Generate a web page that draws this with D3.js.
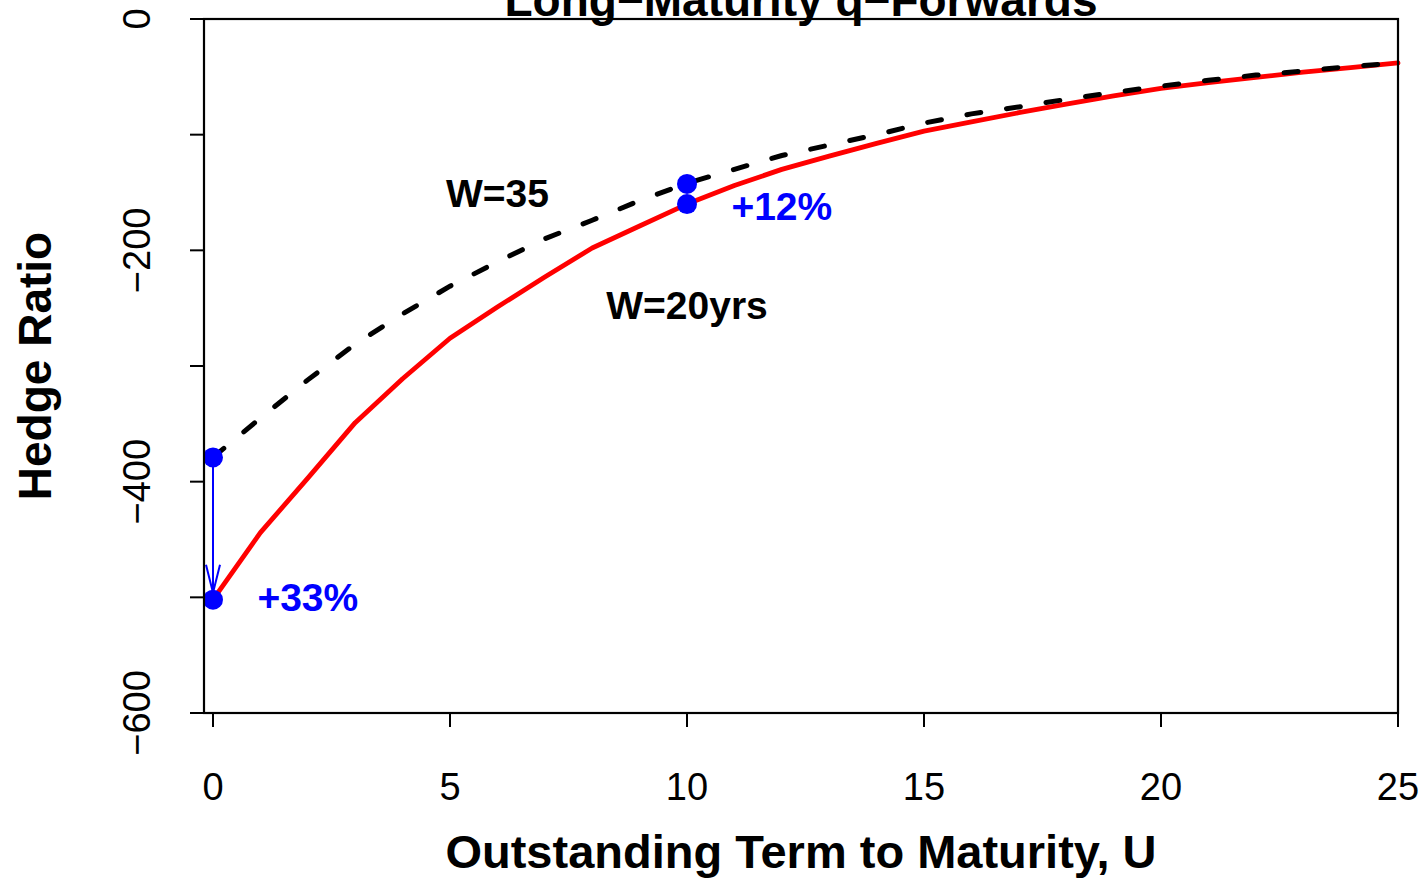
<!DOCTYPE html>
<html>
<head>
<meta charset="utf-8">
<script src="https://cdn.jsdelivr.net/npm/d3@7"></script>
<style>
  html, body { margin: 0; padding: 0; background: #fff; }
  svg { display: block; }
  text { font-family: "Liberation Sans", Arial, Helvetica, sans-serif; }
</style>
</head>
<body>
<svg id="chart" width="1424" height="878"></svg>
<script>
// ---- data ----
const years = [0,1,2,3,4,5,6,7,8,9,10,11,12,13,14,15,16,17,18,19,20,21,22,23,24,25];
const hedgeW20 = [-502,-444,-397,-349,-311,-276,-249,-223,-198,-179,-160,-144,-130,-118.5,-107.5,-97,-89,-81,-73.5,-66.5,-60,-55,-50.5,-46,-42,-38];
const hedgeW35 = [-379,-345,-312,-281,-255,-231,-210,-190,-174,-157,-142,-130,-118,-109,-100,-90,-82,-76,-69.5,-63.5,-58,-53,-48.5,-45,-41,-38];
const markerX = [0, 0, 10, 10];
const markerY = [-379, -502, -142.6, -160];
const arrowFrom = [0, -379];
const arrowTo = [0, -496];
const labelTexts = ["W=35", "W=20yrs", "+12%", "+33%"];
const labelX = [6, 10, 12, 2];
const labelY = [-150, -247, -162, -500];
const labelColors = ["#000000", "#000000", "#0000ff", "#0000ff"];
const xTicks = [0, 5, 10, 15, 20, 25];
const yTicks = [0, -100, -200, -300, -400, -500, -600];
const yTickLabels = ["0", "", "\u2212200", "", "\u2212400", "", "\u2212600"];
const titleText = "Long\u2212Maturity q\u2212Forwards";
const xLabel = "Outstanding Term to Maturity, U";
const yLabel = "Hedge Ratio";

// ---- layout ----
const svg = d3.select("#chart");
const boxL = 204, boxR = 1398, boxT = 19, boxB = 713;
const x = d3.scaleLinear().domain([0, 25]).range([213, 1398]);
const y = d3.scaleLinear().domain([-600, 0]).range([boxB, boxT]);

// title (clipped at the top edge, as in the reference)
svg.append("text")
  .attr("x", (boxL + boxR) / 2).attr("y", 16)
  .attr("text-anchor", "middle")
  .attr("font-size", 46).attr("font-weight", "bold")
  .text(titleText);

// lines
const line = d3.line().x((d, i) => x(years[i])).y(d => y(d));
svg.append("path").datum(hedgeW20)
  .attr("d", line).attr("fill", "none")
  .attr("stroke", "#ff0000").attr("stroke-width", 4.8)
  .attr("stroke-linejoin", "round").attr("stroke-linecap", "round");
svg.append("path").datum(hedgeW35)
  .attr("d", line).attr("fill", "none")
  .attr("stroke", "#000").attr("stroke-width", 5)
  .attr("stroke-dasharray", "14,26")
  .attr("stroke-linecap", "round");

// arrow
const ax = x(arrowFrom[0]), ay0 = y(arrowFrom[1]), ay1 = y(arrowTo[1]);
svg.append("line")
  .attr("x1", ax).attr("y1", ay0).attr("x2", ax).attr("y2", ay1)
  .attr("stroke", "#0000ff").attr("stroke-width", 2);
svg.append("path")
  .attr("d", `M${ax - 7},${ay1 - 28} L${ax},${ay1} L${ax + 7},${ay1 - 28}`)
  .attr("fill", "none").attr("stroke", "#0000ff").attr("stroke-width", 2);

// markers
svg.selectAll("circle.pt").data(markerX).enter().append("circle")
  .attr("class", "pt")
  .attr("cx", d => x(d)).attr("cy", (d, i) => y(markerY[i]))
  .attr("r", 10).attr("fill", "#0000ff");

// annotations
svg.selectAll("text.ann").data(labelTexts).enter().append("text")
  .attr("class", "ann")
  .attr("x", (d, i) => x(labelX[i])).attr("y", (d, i) => y(labelY[i]))
  .attr("dy", "0.36em")
  .attr("text-anchor", "middle")
  .attr("font-size", 39).attr("font-weight", "bold")
  .attr("fill", (d, i) => labelColors[i])
  .text(d => d);

// box
svg.append("rect")
  .attr("x", boxL).attr("y", boxT)
  .attr("width", boxR - boxL).attr("height", boxB - boxT)
  .attr("fill", "none").attr("stroke", "#000").attr("stroke-width", 2.2);

// x axis
const xAxis = svg.append("g");
xAxis.selectAll("line").data(xTicks).enter().append("line")
  .attr("x1", d => x(d)).attr("x2", d => x(d))
  .attr("y1", boxB).attr("y2", boxB + 14)
  .attr("stroke", "#000").attr("stroke-width", 2);
xAxis.selectAll("text").data(xTicks).enter().append("text")
  .attr("x", d => x(d)).attr("y", 800)
  .attr("text-anchor", "middle").attr("font-size", 38)
  .text(d => d);
svg.append("text")
  .attr("x", (boxL + boxR) / 2).attr("y", 868)
  .attr("text-anchor", "middle")
  .attr("font-size", 47).attr("font-weight", "bold")
  .text(xLabel);

// y axis
const yAxis = svg.append("g");
yAxis.selectAll("line").data(yTicks).enter().append("line")
  .attr("x1", boxL - 14).attr("x2", boxL)
  .attr("y1", d => y(d)).attr("y2", d => y(d))
  .attr("stroke", "#000").attr("stroke-width", 2);
yAxis.selectAll("text").data(yTicks).enter().append("text")
  .attr("transform", d => `translate(150,${y(d)}) rotate(-90)`)
  .attr("text-anchor", "middle").attr("font-size", 38)
  .text((d, i) => yTickLabels[i]);
svg.append("text")
  .attr("transform", `translate(51,${(boxT + boxB) / 2}) rotate(-90)`)
  .attr("text-anchor", "middle")
  .attr("font-size", 46).attr("font-weight", "bold")
  .text(yLabel);
</script>
</body>
</html>
